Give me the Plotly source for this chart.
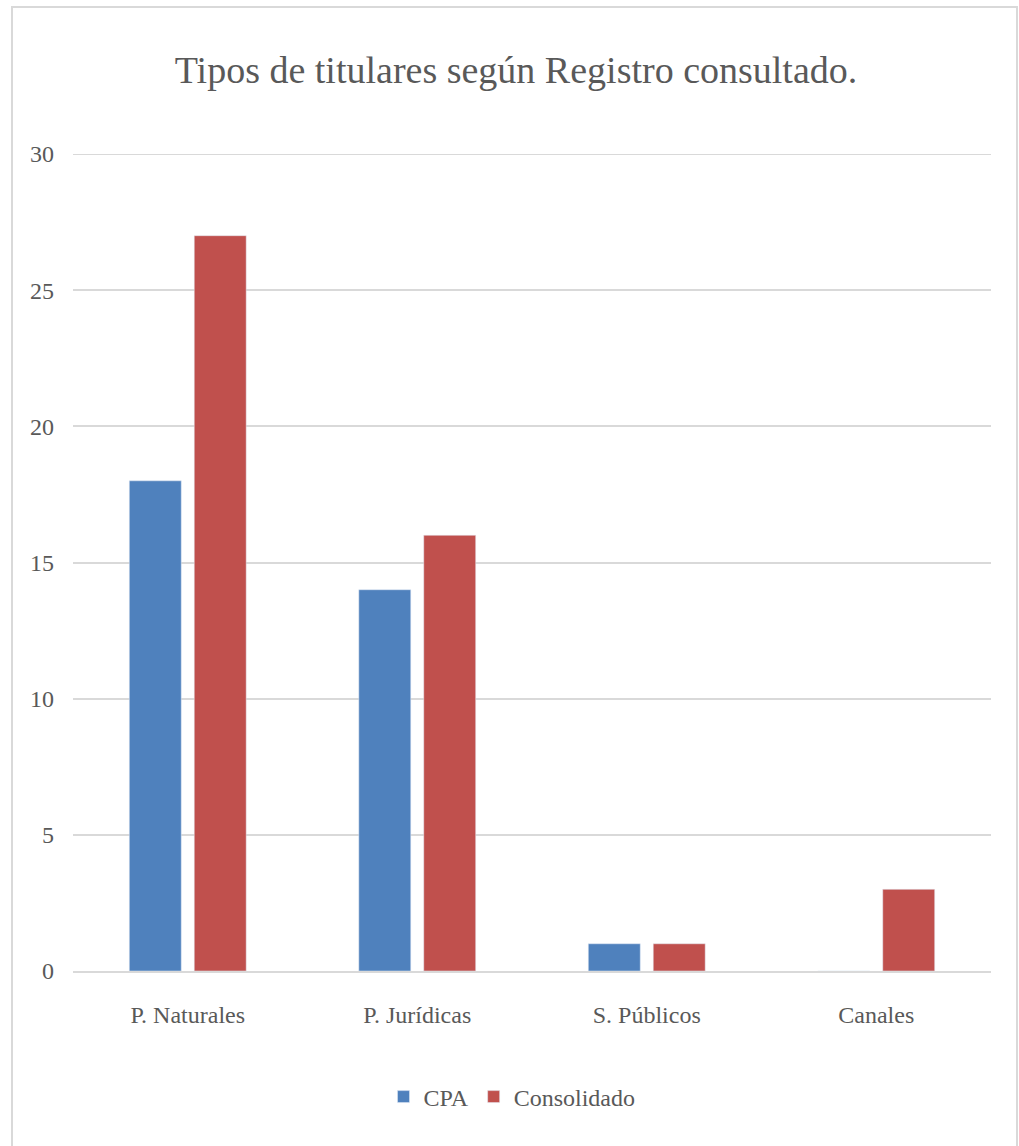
import plotly.graph_objects as go

categories = ["P. Naturales", "P. Jurídicas", "S. Públicos", "Canales"]
cpa = [18, 14, 1, 0]
consolidado = [27, 16, 1, 3]
y_ticks = [0, 5, 10, 15, 20, 25, 30]

font_family = "Liberation Serif, DejaVu Serif, serif"
text_color = "#595959"
grid_color = "#D9D9D9"

fig = go.Figure()
fig.add_trace(go.Bar(name="CPA", x=categories, y=cpa, marker_color="#4F81BD"))
fig.add_trace(go.Bar(name="Consolidado", x=categories, y=consolidado, marker_color="#C0504D"))

W, H = 1019, 1146
L, R, T, B = 73, 28, 154, 175
pw, ph = W - L - R, H - T - B

def px_x(x):
    return (x - L) / pw

def px_y(y):
    return (H - B - y) / ph

fig.update_layout(
    width=W, height=H, autosize=False,
    margin=dict(l=L, r=R, t=T, b=B, autoexpand=False),
    paper_bgcolor="white", plot_bgcolor="white",
    barmode="group", bargap=0.434, bargroupgap=0.2,
    font=dict(family=font_family, color=text_color),
    title=dict(text="Tipos de titulares según Registro consultado.",
               x=516 / W, xanchor="center", y=1 - 70 / H, yanchor="middle",
               font=dict(size=38, color=text_color, family=font_family)),
    legend=dict(orientation="h", x=px_x(512), xanchor="center",
                y=px_y(1097), yanchor="middle",
                font=dict(size=24, color=text_color, family=font_family)),
    showlegend=True,
    shapes=[
        dict(type="rect", xref="paper", yref="paper",
             x0=px_x(12), x1=px_x(1017), y0=px_y(1160), y1=px_y(7),
             line=dict(color=grid_color, width=2), layer="below"),
        dict(type="line", xref="paper", yref="y", x0=0, x1=1,
             y0=y_ticks[-1], y1=y_ticks[-1],
             line=dict(color=grid_color, width=2), layer="below"),
    ],
)
fig.update_xaxes(showgrid=False, showline=True, linecolor=grid_color, linewidth=2,
                 tickangle=0, automargin=False,
                 tickfont=dict(size=24, color=text_color), ticks="", ticklabelstandoff=21)
fig.update_yaxes(range=[0, 30], tickvals=y_ticks, showgrid=True, gridcolor=grid_color,
                 gridwidth=2, zeroline=False, showline=False, ticks="", automargin=False,
                 tickfont=dict(size=24, color=text_color), ticklabelstandoff=18)

fig.write_html("out.html", config={"displayModeBar": False},
               post_script="document.body.style.margin='0';document.body.style.overflow='hidden';")
